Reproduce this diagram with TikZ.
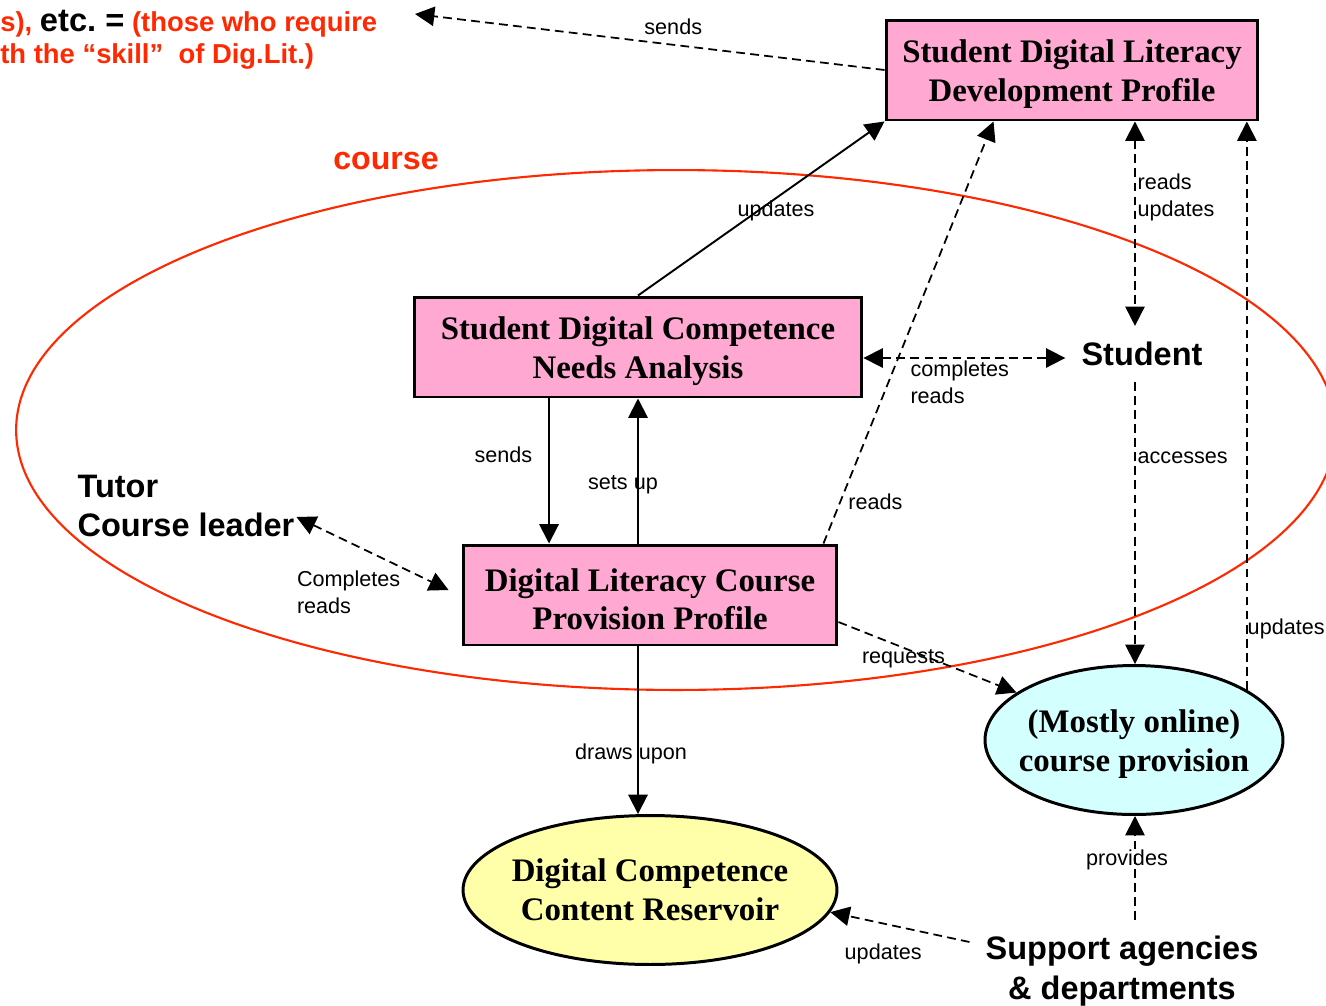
\documentclass[tikz,border=0pt]{standalone}
\usepackage{fontspec}
\setmainfont{Liberation Serif}
\newfontfamily\arialfont{Liberation Sans}
\usetikzlibrary{shapes.geometric, arrows.meta}
\definecolor{boxpink}{RGB}{255,168,210}
\definecolor{resyellow}{RGB}{255,255,170}
\definecolor{onlinecyan}{RGB}{212,255,255}
\definecolor{coursered}{RGB}{255,40,0}
\newcommand{\boxstrut}{\rule{0pt}{17.7pt}}

\begin{document}
\begin{tikzpicture}[x=0.02cm, y=-0.02cm, >={Triangle[length=11pt,width=11pt]},
  profilebox/.style={draw, line width=1.7pt, fill=boxpink, minimum height=2cm, align=center, font=\bfseries\fontsize{18.7}{22}\selectfont},
  store/.style={draw, ellipse, line width=1.7pt, minimum height=2.98cm, inner xsep=-6pt, inner ysep=0pt, align=center, font=\bfseries\fontsize{18.7}{22}\selectfont},
  actor/.style={inner sep=9pt, align=center, font=\arialfont\bfseries\fontsize{18.5}{22.7}\selectfont},
  lab/.style={inner sep=1pt, align=left, font=\arialfont\fontsize{12.3}{15.3}\selectfont},
  flow/.style={line width=1.1pt},
  flowd/.style={line width=1pt, dash pattern=on 5pt off 3pt}]
\useasboundingbox (0,0) rectangle (1326,1005);
\clip (0,0) rectangle (1326,1005);
% Course
\draw[coursered, line width=1.2pt] (676,430) ellipse [x radius=13.2cm, y radius=5.2cm];
\node[text=coursered, inner sep=0pt, font=\arialfont\bfseries\fontsize{18.3}{22}\selectfont] (course) at (386,161) {course};
\node[anchor=north west, inner sep=0pt, align=left, text=coursered, font=\arialfont\bfseries\fontsize{15.6}{18.1}\selectfont] (skilltext) at (0,10) {s), {\color{black}\fontsize{18.6}{18.1}\selectfont etc.\ =} (those who require\\th the “skill”\ \ of Dig.Lit.)};
\coordinate (toptip) at (415,14);
% Boxes
\node[profilebox, minimum width=7.44cm] (profile) at (1072,70) {\boxstrut Student Digital Literacy\\Development Profile};
\node[profilebox, minimum width=8.96cm] (needs) at (638,347) {\boxstrut Student Digital Competence\\Needs Analysis};
\node[profilebox, minimum width=7.48cm] (provision) at (650,595) {\boxstrut Digital Literacy Course\\Provision Profile};
\node[store, fill=resyellow, minimum width=7.48cm] (reservoir) at (650,890) {Digital Competence\\Content Reservoir};
\node[store, fill=onlinecyan, minimum width=5.96cm] (online) at (1134,740) {\boxstrut(Mostly online)\\course provision};
\node[actor] (student) at (1142,354) {Student};
\node[actor, align=left, inner sep=1pt] (tutor) at (186,506) {Tutor\\Course leader};
\node[actor] (support) at (1122,971) {Support agencies\\\& departments};
% Arrows
\coordinate (pa) at ([xshift=1.26cm]profile.south);
\coordinate (nc) at ([yshift=-0.22cm]needs.east);
\coordinate (sd) at ([xshift=-1.78cm]needs.south);
\draw[flowd, ->] (profile.west) -- (toptip) node[lab, pos=0.45, above=4pt] {sends};
\draw[flow, ->] (needs.north) -- (profile.south west) node[lab, pos=0.56, anchor=north] {updates};
\draw[flowd, ->] ([xshift=-0.3cm]provision.north east) -- ([xshift=2.18cm]profile.south west) node[lab, pos=0.1, right=3pt] {reads};
\draw[flowd, <->] (pa) -- (pa |- student.north) node[lab, pos=0.37, right=0pt] {reads\\updates};
\draw[flowd, ->] (online.24) -- (online.24 |- profile.south) node[lab, pos=0.107, right=0pt, inner sep=0pt] {updates};
\draw[flowd, <->] (nc) -- (nc -| student.west) node[lab, pos=0.22, anchor=north west] {completes\\reads};
\draw[flow, ->] (sd) -- (sd |- provision.north) node[lab, pos=0.39, left=8pt] {sends};
\draw[flow, ->] (needs.south |- provision.north) -- (needs.south) node[lab, pos=0.405, xshift=-0.3cm] {sets up};
\draw[flowd, <->] ([yshift=-0.22cm]tutor.east) -- ([xshift=-0.26cm, yshift=0.1cm]provision.west) node[lab, pos=0.7, anchor=north east] {Completes\\reads};
\draw[flowd, ->] (pa |- student.south) -- (pa |- online.north) node[lab, pos=0.27, right=0pt] {accesses};
\draw[flowd, ->] ([yshift=-0.54cm]provision.east) -- (online.158) node[lab, pos=0.365, yshift=-0.22cm] {requests};
\draw[flow, ->] (needs.south |- provision.south) -- (needs.south |- reservoir.north) node[lab, pos=0.64, xshift=-0.14cm] {draws upon};
\draw[flowd, ->] (pa |- support.north) -- (pa |- online.south) node[lab, pos=0.58, xshift=-0.16cm] {provides};
\draw[flowd, ->] ([yshift=0.58cm]support.west) -- (reservoir.-7) node[lab, pos=0.62, below=10pt] {updates};
\end{tikzpicture}
\end{document}
